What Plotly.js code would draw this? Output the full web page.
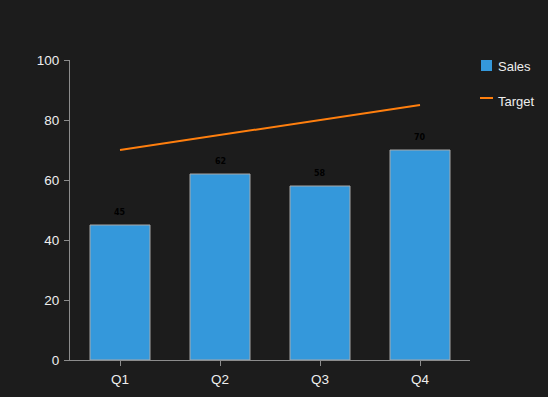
<!DOCTYPE html>
<html>
<head>
<meta charset="utf-8">
<script src="https://cdn.plot.ly/plotly-3.0.1.min.js"></script>
<style>html,body{margin:0;padding:0;background:#1c1c1c;}</style>
</head>
<body>
<div id="chart" style="width:548px;height:397px;"></div>
<script>
var quarters = ["Q1", "Q2", "Q3", "Q4"];
var sales = [45, 62, 58, 70];
var target = [70, 75, 80, 85];
var yTicks = [0, 20, 40, 60, 80, 100];
var seriesNames = ["Sales", "Target"];
var seriesColors = ["#3498db", "#ff7f0e"];

var traces = [
  {
    type: "bar", name: seriesNames[0], x: quarters, y: sales, width: 0.6,
    marker: {color: seriesColors[0], line: {color: "#a8a8a8", width: 1}},
    hoverinfo: "none"
  },
  {
    type: "scatter", mode: "lines", name: seriesNames[1], x: quarters, y: target,
    line: {color: seriesColors[1], width: 2}, hoverinfo: "none"
  }
];

var annotations = quarters.map(function (q, i) {
  return {
    x: q, y: sales[i], text: String(sales[i]), showarrow: false,
    yshift: 13, font: {family: "DejaVu Sans, sans-serif", size: 8, color: "#000000", weight: "bold"}
  };
});

// manual legend (paper coordinates, plot area spans 70..470 px horizontally, 60..360 vertically)
function px(x) { return (x - 70) / 400; }
function py(y) { return (360 - y) / 300; }
annotations.push({xref: "paper", yref: "paper", x: px(496), y: py(66), xanchor: "left", yanchor: "middle",
  text: seriesNames[0], showarrow: false, font: {size: 13, color: "#eeeeee"}});
annotations.push({xref: "paper", yref: "paper", x: px(496), y: py(101), xanchor: "left", yanchor: "middle",
  text: seriesNames[1], showarrow: false, font: {size: 13, color: "#eeeeee"}});
var shapes = [
  {type: "rect", xref: "paper", yref: "paper", x0: px(481), x1: px(492), y0: py(60), y1: py(71),
   fillcolor: seriesColors[0], line: {width: 0}},
  {type: "line", xref: "paper", yref: "paper", x0: px(480), x1: px(493), y0: py(98), y1: py(98),
   line: {color: seriesColors[1], width: 2}}
];

var layout = {
  width: 548, height: 397,
  paper_bgcolor: "#1c1c1c", plot_bgcolor: "#1c1c1c",
  margin: {l: 70, r: 78, t: 60, b: 37, autoexpand: false},
  font: {family: "Liberation Sans, Arial, sans-serif", size: 13, color: "#eeeeee"},
  showlegend: false,
  xaxis: {
    type: "category", range: [-0.5, 3.5], showgrid: false, zeroline: false,
    showline: true, linecolor: "#8c8c8c", linewidth: 1,
    ticks: "outside", ticklen: 5, tickcolor: "#8c8c8c", ticklabelstandoff: 2,
    tickfont: {size: 13.5, color: "#eeeeee"}
  },
  yaxis: {
    range: [0, 100], tickvals: yTicks, showgrid: false, zeroline: false,
    showline: true, linecolor: "#8c8c8c", linewidth: 1,
    ticks: "outside", ticklen: 5, tickcolor: "#8c8c8c", ticklabelstandoff: 2,
    tickfont: {size: 13.5, color: "#eeeeee"}
  },
  annotations: annotations,
  shapes: shapes
};

Plotly.newPlot("chart", traces, layout, {displayModeBar: false, staticPlot: true});
</script>
</body>
</html>
